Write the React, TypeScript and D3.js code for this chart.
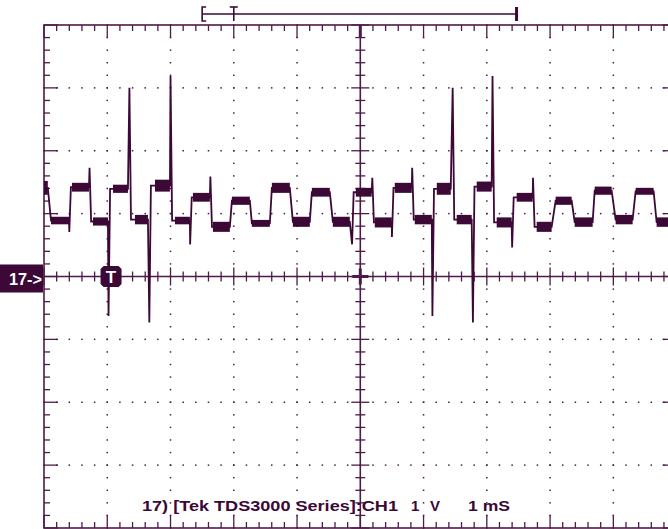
import React from "react";
import * as d3 from "d3";

// Channel 1 trace, 1 V/div, 1 ms/div. Each plateau: start/end time (ms), noise envelope top/bottom (V)
const segStart = [0.0, 0.111, 0.442, 0.774, 1.09, 1.438, 1.754, 2.07, 2.354, 2.67, 2.97, 3.286, 3.602, 3.934, 4.234, 4.566, 4.929, 5.229, 5.545, 5.861, 6.209, 6.524, 6.84, 7.156, 7.472, 7.788, 8.088, 8.389, 8.705, 9.036, 9.352, 9.684];
const segEnd = [0.06, 0.395, 0.711, 1.011, 1.327, 1.643, 1.991, 2.306, 2.622, 2.938, 3.254, 3.57, 3.886, 4.202, 4.518, 4.834, 5.18, 5.498, 5.814, 6.13, 6.43, 6.761, 7.077, 7.393, 7.725, 8.025, 8.341, 8.673, 8.973, 9.305, 9.637, 10.0];
const segTop = [1.52, 0.95, 1.49, 0.94, 1.46, 0.98, 1.54, 0.95, 1.33, 0.87, 1.27, 0.9, 1.49, 0.95, 1.41, 0.95, 1.41, 0.94, 1.49, 0.98, 1.49, 0.98, 1.51, 0.94, 1.33, 0.87, 1.27, 0.94, 1.43, 0.98, 1.41, 0.94];
const segBottom = [1.3, 0.83, 1.35, 0.81, 1.33, 0.83, 1.35, 0.83, 1.19, 0.71, 1.14, 0.79, 1.33, 0.79, 1.27, 0.79, 1.27, 0.78, 1.33, 0.83, 1.3, 0.83, 1.35, 0.78, 1.19, 0.71, 1.14, 0.79, 1.3, 0.83, 1.3, 0.79];

// Switching transients between plateaus
const spikeTime = [0.4, 0.72, 1.02, 1.35, 1.665, 2.0, 2.31, 2.63, 4.87, 5.19, 5.5, 5.82, 6.14, 6.46, 6.78, 7.09, 7.4, 7.73];
const spikeVolts = [0.71, 1.73, -0.63, 3.0, -0.73, 3.19, 0.51, 1.59, 0.51, 1.57, 0.63, 1.73, -0.63, 3.0, -0.73, 3.19, 0.46, 1.57];

// Screen annotations
const recordWindow = [2.5, 7.47]; // ms, bracket along the top
const triggerTime = 3.0; // ms, "T" on the bracket
const triggerPoint = [1.06, 0]; // ms, V, "T" flag on the trace
const channelLabel = "17->";
const footerParts = ["17) [Tek TDS3000 Series]:CH1", "1", "V", "1 mS"];

const W = 668;
const H = 529;
const GRID = "#4e1a48";
const INK = "#3c0836";
const SETTLE = 0.025; // ms for a transient to return to the next plateau

export default function App() {
  const x = d3.scaleLinear().domain([0, 10]).range([44, 676.6]);
  const y = d3.scaleLinear().domain([-4, 4]).range([528, 25]);

  const xMinor = d3.range(0, 51).map((i) => i * 0.2);
  const yMinor = d3.range(-20, 21).map((i) => i * 0.2);
  const isMajor = (v: number) => Math.abs(v - Math.round(v)) < 1e-6;
  const xMajorDotted = d3.range(1, 10).filter((v) => v !== 5);
  const yMajorDotted = d3.range(-3, 4).filter((v) => v !== 0);

  // Trace vertices: plateau mid-levels, with transients inserted between plateaus
  const mids = segStart.map((_, i) => (segTop[i] + segBottom[i]) / 2);
  const pts: [number, number][] = [];
  segStart.forEach((s, i) => {
    pts.push([s, mids[i]]);
    pts.push([segEnd[i], mids[i]]);
    const j = spikeTime.findIndex((t) => t >= segEnd[i] && (i + 1 >= segStart.length || t <= segStart[i + 1]));
    if (j >= 0 && i + 1 < segStart.length) {
      pts.push([spikeTime[j], spikeVolts[j]]);
      pts.push([Math.min(spikeTime[j] + SETTLE, segStart[i + 1]), mids[i + 1]]);
    }
  });
  const line = d3
    .line<[number, number]>()
    .x((d) => x(d[0]))
    .y((d) => y(d[1]));

  const x0 = x(0);
  const x1 = x(10);
  const yT = y(4);
  const yB = y(-4);
  const cx = x(5);
  const cy = y(0);

  const tick = (key: string, a: number, b: number, c: number, d: number, w = 1.3) => (
    <line key={key} x1={a} y1={b} x2={c} y2={d} stroke={GRID} strokeWidth={w} />
  );

  const tx = x(triggerPoint[0]);
  const ty = y(triggerPoint[1]);
  const octagon = (cxp: number, cyp: number, hw: number, hh: number, r: number) =>
    [
      [cxp - hw + r, cyp - hh],
      [cxp + hw - r, cyp - hh],
      [cxp + hw, cyp - hh + r],
      [cxp + hw, cyp + hh - r],
      [cxp + hw - r, cyp + hh],
      [cxp - hw + r, cyp + hh],
      [cxp - hw, cyp + hh - r],
      [cxp - hw, cyp - hh + r],
    ]
      .map((p) => p.join(","))
      .join(" ");

  const bl = x(recordWindow[0]);
  const br = x(recordWindow[1]);
  const bt = x(triggerTime);

  return (
    <div style={{ position: "fixed", left: 0, top: 0 }}>
      <svg width={W} height={H} style={{ display: "block", background: "#ffffff" }}>
        {/* dotted graticule */}
        <g fill={GRID}>
          {xMajorDotted.flatMap((v) =>
            yMinor.map((u) => (
              <rect key={`dv${v}_${u}`} x={x(v) - 0.75} y={y(u) - 0.75} width={1.5} height={1.5} />
            ))
          )}
          {yMajorDotted.flatMap((u) =>
            xMinor.map((v) => (
              <rect key={`dh${u}_${v}`} x={x(v) - 0.75} y={y(u) - 0.75} width={1.5} height={1.5} />
            ))
          )}
        </g>

        {/* frame and centre axes */}
        <rect x={x0} y={yT} width={x1 - x0} height={yB - yT} fill="none" stroke={GRID} strokeWidth={1.6} />
        {tick("ch", x0, cy, x1, cy, 1.6)}
        {tick("cv", cx, yT, cx, yB, 1.6)}

        {/* edge and axis ticks */}
        {xMinor.map((v) => {
          const L = isMajor(v) ? 13 : 6;
          const C = isMajor(v) ? 9 : 5;
          return (
            <g key={`tx${v}`}>
              {tick("t", x(v), yT, x(v), yT + L)}
              {tick("b", x(v), yB, x(v), yB - L)}
              {tick("c", x(v), cy - C, x(v), cy + C)}
            </g>
          );
        })}
        {yMinor.map((u) => {
          const L = isMajor(u) ? 14 : 6;
          const C = isMajor(u) ? 9 : 5;
          return (
            <g key={`ty${u}`}>
              {tick("l", x0, y(u), x0 + L, y(u))}
              {tick("r", x1, y(u), x1 - L, y(u))}
              {tick("c", cx - C, y(u), cx + C, y(u))}
            </g>
          );
        })}
        {tick("cross", cx - 8, cy, cx + 8, cy, 3)}
        {tick("crossv", cx, cy - 8, cx, cy + 8, 3)}
        {tick("topc", cx, yT, cx, yT + 13, 3)}

        {/* record window bracket with trigger position */}
        <g stroke={INK} strokeWidth={1.6} fill="none">
          <line x1={bl} y1={14} x2={br} y2={14} />
          <polyline points={`${bl + 4},7 ${bl},7 ${bl},21 ${bl + 4},21`} />
          <line x1={br} y1={7} x2={br} y2={21} strokeWidth={3} />
          <line x1={bt} y1={7} x2={bt} y2={21} />
          <line x1={bt - 4} y1={7} x2={bt + 4} y2={7} />
        </g>

        {/* noise envelope of each plateau */}
        <g fill={INK}>
          {segStart.map((s, i) => (
            <rect
              key={`band${i}`}
              x={x(s)}
              y={y(segTop[i])}
              width={x(segEnd[i]) - x(s)}
              height={y(segBottom[i]) - y(segTop[i])}
            />
          ))}
        </g>
        <path d={line(pts) ?? ""} fill="none" stroke={INK} strokeWidth={1.8} strokeLinejoin="miter" />

        {/* channel ground marker */}
        <rect x={0} y={cy - 12} width={x0 - 1} height={28} fill={INK} />
        <text
          x={9}
          y={cy + 8}
          fill="#ffffff"
          fontFamily="Liberation Sans, Arial, sans-serif"
          fontWeight="bold"
          fontSize={17}
          textLength={33}
          lengthAdjust="spacingAndGlyphs"
        >
          {channelLabel}
        </text>

        {/* trigger flag */}
        <polygon points={octagon(tx, ty, 10.5, 10.5, 3)} fill={INK} />
        <text
          x={tx}
          y={ty + 6}
          textAnchor="middle"
          fill="#ffffff"
          fontFamily="Liberation Sans, Arial, sans-serif"
          fontWeight="bold"
          fontSize={17}
        >
          T
        </text>

        {/* footer readout */}
        <g fill={INK} fontFamily="Liberation Sans, Arial, sans-serif" fontWeight="bold" fontSize={15}>
          <text x={142} y={511} textLength={256} lengthAdjust="spacingAndGlyphs">
            {footerParts[0]}
          </text>
          <text x={411} y={511}>{footerParts[1]}</text>
          <text x={430} y={511}>{footerParts[2]}</text>
          <text x={468} y={511} textLength={42} lengthAdjust="spacingAndGlyphs">
            {footerParts[3]}
          </text>
        </g>
      </svg>
    </div>
  );
}
